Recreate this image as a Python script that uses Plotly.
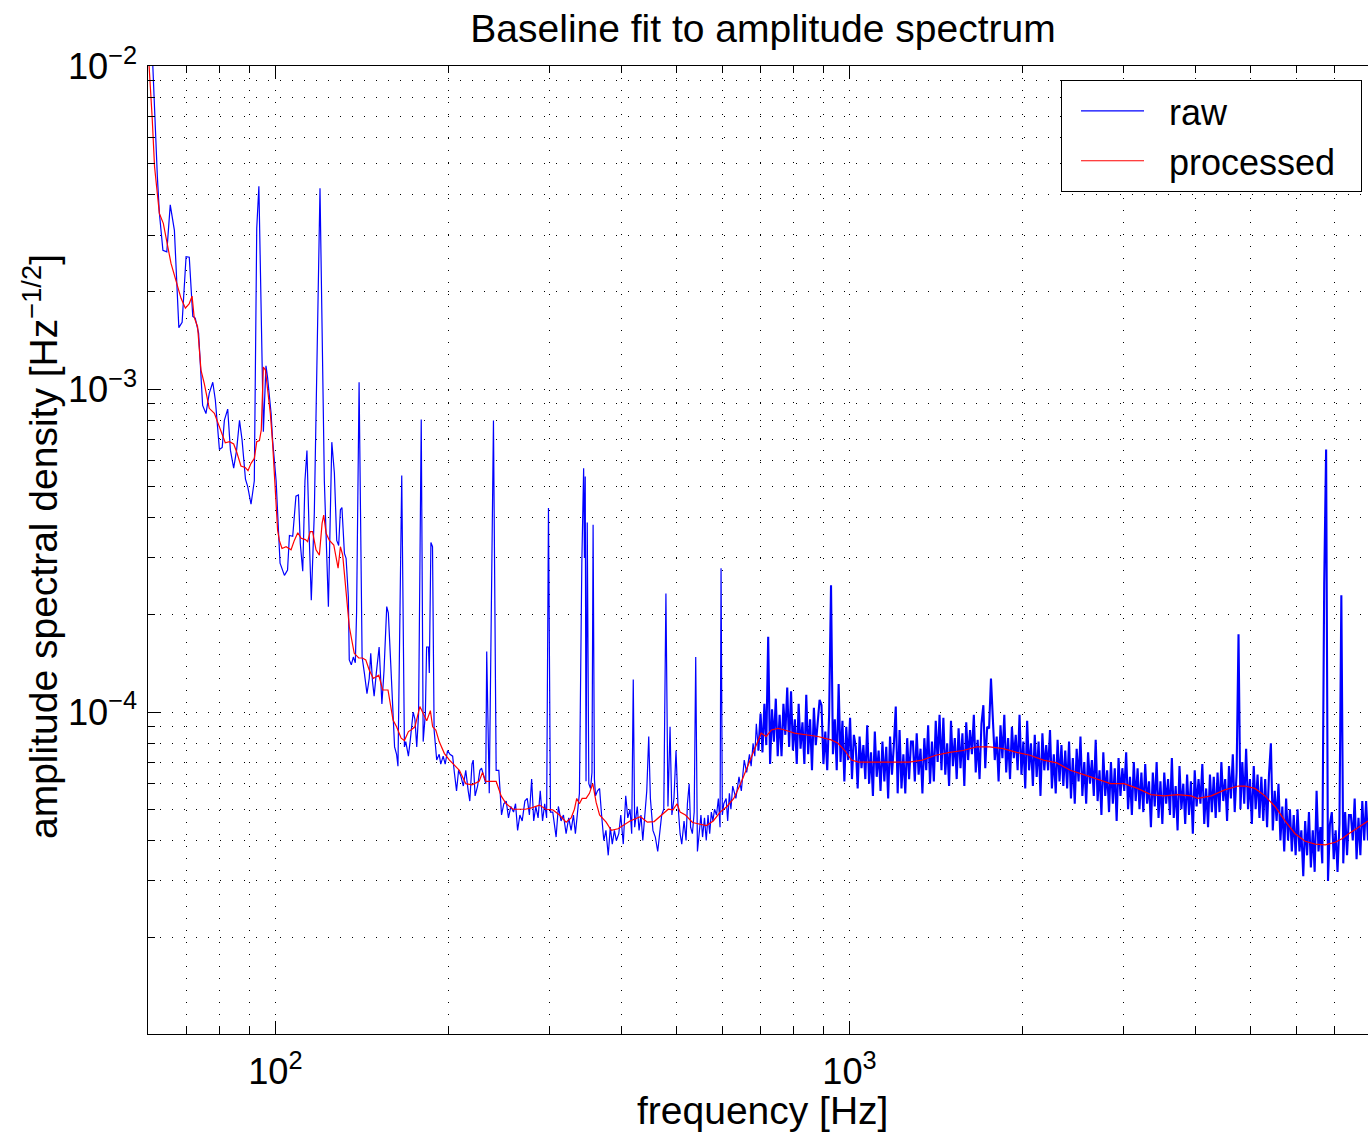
import numpy as np
import plotly.graph_objects as go

# ---------------- data (amplitude in units of 1e-6 Hz^-1/2) ----------------
raw_low_freq = [
    60.2, 61.1, 62.3, 62.8, 63.7, 64.7, 65.6, 66.7, 67.9, 68.8, 69.9, 70.8, 71.8, 72.5, 73.5,
    74.7, 75.7, 76.7, 77.8, 78.6, 79.9, 80.8, 81.5, 82.6, 83.5, 84.6, 85.6, 86.6, 87.5, 88.7,
    89.5, 90.7, 91.9, 92.8, 93.6, 95.3, 96.3, 96.9, 98.3, 98.9, 100.3, 101.3, 101.9, 103.7, 105.0,
    105.8, 107.2, 108.6, 109.7, 110.5, 111.6, 112.6, 113.5, 114.6, 115.5, 116.9, 119.6, 121.7, 123.7, 125.4,
    126.7, 127.9, 128.9, 129.8, 130.6, 131.9, 132.8, 134.0, 134.5, 135.6, 136.7, 137.8, 138.5, 139.9, 141.6,
    142.9, 144.4, 145.7, 146.6, 147.6, 148.6, 149.9, 151.6, 153.3, 154.6, 156.3, 157.3, 158.8, 160.3, 161.3,
    162.6, 163.5, 166.0, 167.8, 168.7, 170.5, 171.8, 173.8, 175.0, 176.3, 177.6, 179.5, 180.9, 182.5, 183.4,
    184.8, 185.4, 186.6, 187.8, 189.0, 191.0, 192.9, 194.1, 196.0, 197.6, 199.5, 201.4, 203.6, 205.0, 206.8,
    208.5, 210.6, 212.5, 214.6, 216.7, 218.1, 220.0, 221.1, 222.8, 225.0, 227.1, 228.6, 232.5, 233.4, 235.8,
    239.8, 242.4, 245.0, 247.7, 250.0, 252.4, 254.7, 257.1, 259.9, 262.0, 264.2, 266.6, 269.1, 272.0, 274.6,
    277.0, 279.5, 281.8, 284.2, 286.8, 289.3, 292.0, 294.5, 296.8, 299.0, 301.4, 304.2, 308.3, 311.1, 314.5,
    317.5, 320.9, 324.3, 327.4, 330.5, 333.1, 336.3, 338.5, 341.8, 344.3, 345.4, 346.5, 347.6, 349.3, 351.5,
    354.0, 356.0, 357.6, 359.5, 361.1, 364.0, 367.0, 370.0, 373.3, 376.5, 380.0, 383.1, 386.2, 389.5, 392.6,
    396.4, 399.6, 403.6, 407.6, 411.0, 414.7, 417.5, 420.1, 422.5, 426.9, 430.0, 433.3, 436.5, 440.2, 443.5,
    447.0, 450.0, 454.6, 459.0, 463.4, 467.0, 470.8, 474.8, 478.9, 482.8, 486.9, 490.5, 494.6, 498.7, 502.5,
    506.9, 510.3, 515.0, 519.2, 522.0, 525.7, 528.7, 532.5, 536.4, 539.7, 543.4, 547.0, 551.1, 554.7, 559.0,
    563.0, 567.0, 570.8, 574.6, 578.2, 582.0, 586.7, 591.0, 595.0, 597.4, 600.5, 604.0, 609.7, 613.5, 617.7,
    621.5, 626.0, 634.0, 642.0, 648.0, 655.6, 662.0, 669.5, 674.0, 679.3, 684.0, 688.2, 694.0,
]
raw_low_asd = [
    20000, 10000, 4540, 3510, 2690, 2660, 3720, 3100, 1550, 1610, 2570, 2560, 1680, 1660, 1490,
    890, 840, 970, 1050, 925, 650, 660, 800, 867, 647, 569, 647, 800, 695, 526,
    499, 440, 520, 3150, 4250, 738, 1180, 1090, 840, 695, 520, 358, 289, 265, 275,
    352, 350, 466, 470, 333, 273, 520, 645, 340, 222, 413, 4190, 520, 212, 685,
    550, 340, 328, 423, 430, 310, 299, 227, 145, 140, 148, 142, 203, 1050, 148,
    132, 114, 127, 152, 125, 112, 132, 159, 106, 134, 212, 203, 142, 99, 78,
    74, 68, 540, 78, 81, 73, 82, 100, 95, 78, 99, 805, 81, 99, 159,
    159, 132, 335, 325, 88, 71, 74, 69, 73, 69, 76, 74, 73, 65, 57,
    66, 63, 59, 66, 57, 53, 69, 71, 55, 59, 66, 67, 60, 154, 56,
    800, 66, 66, 48, 52, 53, 47, 51, 49, 52, 43, 48, 46, 53, 54,
    48, 62, 46, 51, 47, 57, 46, 52, 47, 428, 49, 49, 41, 51, 46,
    48, 42, 47, 43, 48, 42, 50, 56, 290, 569, 300, 536, 61, 386, 60,
    58, 65, 380, 62, 55, 57, 58, 48, 40, 43, 36, 44, 39, 43, 40,
    42, 48, 39, 55, 47, 50, 42, 126, 44, 51, 43, 48, 40, 47, 57,
    84, 54, 43, 41, 37, 43, 48, 50, 233, 51, 90, 48, 54, 76, 52,
    42, 39, 46, 40, 52, 60, 44, 42, 49, 148, 37, 42, 48, 41, 47,
    40, 48, 42, 49, 46, 50, 48, 54, 44, 279, 48, 52, 54, 46, 56,
    50, 59, 54, 63, 57, 71, 65, 74, 68, 80, 73, 92, 76,
]

# dense part of the raw spectrum, 700 Hz - 8 kHz (log-spaced display bins)
band_start_hz = 700.0
band_stop_hz = 8000.0
raw_band_asd = [
    99, 75, 106, 79, 171, 69, 102, 81, 110, 73,
    98, 73, 106, 85, 119, 78, 116, 76, 95, 69,
    106, 77, 93, 69, 113, 74, 95, 66, 103, 79,
    94, 109, 105, 69, 87, 66, 98, 247, 74, 95,
    66, 122, 70, 94, 61, 90, 71, 96, 62, 85,
    78, 58, 84, 67, 79, 62, 91, 60, 75, 55,
    87, 63, 76, 57, 81, 61, 78, 54, 84, 64,
    79, 104, 56, 88, 58, 74, 56, 83, 62, 81,
    81, 61, 86, 64, 77, 56, 83, 66, 91, 60,
    81, 61, 94, 70, 98, 66, 96, 64, 80, 59,
    94, 68, 83, 62, 89, 67, 86, 59, 93, 71,
    88, 74, 98, 65, 82, 62, 92, 105, 67, 90,
    89, 127, 95, 71, 84, 61, 91, 72, 98, 65,
    83, 62, 90, 72, 85, 66, 98, 64, 81, 58,
    94, 66, 80, 59, 85, 63, 81, 55, 86, 66,
    79, 66, 88, 58, 74, 56, 82, 61, 79, 59,
    76, 58, 81, 54, 72, 52, 77, 61, 84, 55,
    70, 52, 75, 60, 71, 55, 82, 53, 66, 48,
    75, 55, 66, 49, 70, 52, 67, 46, 72, 55,
    67, 57, 75, 50, 63, 48, 70, 53, 67, 50,
    65, 49, 69, 52, 61, 44, 65, 51, 70, 47,
    61, 45, 65, 52, 62, 48, 72, 47, 59, 43,
    68, 50, 60, 45, 64, 48, 61, 42, 66, 51,
    62, 52, 69, 45, 58, 44, 64, 49, 63, 47,
    65, 49, 70, 53, 62, 46, 68, 54, 74, 49,
    65, 174, 50, 70, 52, 77, 50, 62, 45, 68,
    50, 64, 47, 63, 46, 62, 44, 64, 80, 43,
    57, 46, 60, 40, 51, 37, 54, 40, 50, 37,
    48, 36, 50, 37, 43, 31, 46, 36, 49, 33,
    43, 32, 57, 37, 44, 34, 250, 650, 30, 45,
    49, 35, 43, 32, 45, 230, 34, 49, 36, 48,
    48, 40, 54, 35, 47, 36, 53, 40, 53, 40,
]

proc_freq = [
    59.9, 60.3, 61.0, 61.6, 62.8, 63.8, 64.9, 65.8, 67.1, 68.5, 69.7, 70.8, 71.6, 72.2, 73.2,
    74.2, 75.2, 76.7, 78.3, 80.4, 81.8, 83.2, 84.6, 85.6, 87.1, 88.6, 89.6, 90.7, 91.9, 92.8,
    93.8, 94.5, 95.3, 96.1, 96.9, 98.0, 98.9, 99.6, 100.3, 100.9, 101.6, 102.7, 104.4, 106.5, 107.9,
    109.4, 110.9, 112.8, 113.8, 115.0, 116.1, 117.7, 119.3, 120.6, 121.4, 122.6, 124.2, 126.4, 128.6, 129.8,
    131.0, 132.8, 134.5, 137.2, 139.7, 141.8, 143.7, 145.7, 148.1, 151.4, 153.8, 157.1, 158.6, 160.3, 162.6,
    165.6, 167.8, 170.5, 172.3, 175.0, 178.5, 180.5, 183.5, 186.2, 187.9, 190.3, 192.9, 196.9, 201.0, 205.0,
    209.2, 214.6, 220.0, 226.4, 229.5, 232.6, 242.4, 247.3, 252.4, 259.3, 265.8, 272.5, 279.3, 288.3, 296.1,
    304.2, 312.5, 320.9, 327.4, 331.8, 334.9, 338.5, 342.2, 347.7, 352.4, 357.1, 362.0, 367.0, 376.8, 384.6,
    395.2, 403.6, 414.7, 432.3, 444.6, 456.8, 470.1, 483.4, 492.6, 500.8, 506.9, 517.9, 532.8, 548.0, 563.3,
    579.0, 595.2, 611.7, 628.7, 646.1, 664.2, 682.5, 701.5, 716.1, 731.0, 751.0, 771.0, 802.0, 846.0, 880.8,
    929.0, 955.0, 981.0, 1008, 1036, 1064, 1110, 1202, 1270, 1339, 1413, 1494, 1576, 1664, 1755,
    1852, 1955, 2063, 2177, 2297, 2424, 2559, 2700, 2849, 3007, 3173, 3349, 3534, 3730, 3936,
    4043, 4267, 4503, 4752, 4881, 5083, 5292, 5510, 5736, 5972, 6217, 6473, 6739, 7016, 7207,
    7403, 7704, 8000,
]
proc_asd = [
    12000, 10000, 6970, 4880, 3500, 3260, 2755, 2450, 2170, 1910, 1780, 1840, 1940, 1670, 1560,
    1145, 1040, 872, 841, 747, 682, 687, 676, 640, 578, 572, 559, 589, 610, 687,
    693, 747, 1170, 1145, 1016, 841, 679, 561, 433, 366, 340, 321, 325, 318, 340,
    359, 345, 342, 337, 362, 362, 318, 306, 384, 407, 357, 340, 329, 279, 325,
    306, 233, 184, 152, 147, 147, 145, 135, 127, 130, 117, 117, 104, 94.5, 90,
    83, 81.6, 87, 88, 90, 104, 100, 94, 101, 90, 88, 81, 74.5, 71, 68.5,
    66, 60, 59.5, 61, 65, 61, 61, 55, 52, 50, 50, 50, 50.5, 51.5, 50,
    49.8, 48, 45.6, 47, 50, 54, 52, 54, 54, 56, 60, 52.5, 48, 45.6, 43,
    43.5, 44.5, 46, 47.4, 45.6, 45.8, 48, 50, 49.8, 52, 49, 48, 45.5, 45, 44.5,
    46, 49, 51, 54, 60, 68, 76, 86, 84, 88, 89, 88, 86, 85, 84,
    82, 80, 76, 71, 70, 70, 70, 70, 70, 71, 73.5, 75, 76, 78, 78,
    77, 75, 73.5, 71, 69.6, 66, 64, 62, 60, 60, 58, 55.5, 55, 55.5, 55,
    54, 55, 57.4, 59, 59, 58, 55, 51, 46, 42, 39.8, 39, 38.8, 39.5, 40.5,
    42, 44, 46,
]
unit = 1e-6

title_text = "Baseline fit to amplitude spectrum"
xlabel_text = "frequency [Hz]"
ylabel_text = "amplitude spectral density [Hz<sup>\u22121/2</sup>]"
NB = "\u00a0"
legend_names = [NB * 2 + "raw" + NB * 2, NB * 2 + "processed" + NB * 2]

# ---------------- build traces ----------------
band_freq = np.geomspace(band_start_hz, band_stop_hz, len(raw_band_asd))
low_x = np.array(raw_low_freq)
low_y = np.array(raw_low_asd, float) * unit
band_x = np.concatenate([low_x[-1:], band_freq])
band_y = np.concatenate([low_y[-1:], np.array(raw_band_asd, float) * unit])
proc_y = np.array(proc_asd, float) * unit

FONT = "Liberation Sans, Arial, Helvetica, sans-serif"
BLUE = "#0000ff"
RED = "#ff0000"
GRID_DASH = "1px,11px"

FIG_W, FIG_H = 1368, 1134

fig = go.Figure()
fig.add_trace(go.Scatter(x=low_x, y=low_y, mode="lines", name=legend_names[0],
                         legendgroup="raw", line=dict(color=BLUE, width=1.2)))
fig.add_trace(go.Scatter(x=band_x, y=band_y, mode="lines", name=legend_names[0],
                         legendgroup="raw", showlegend=False,
                         line=dict(color=BLUE, width=2.1)))
fig.add_trace(go.Scatter(x=proc_freq, y=proc_y, mode="lines", name=legend_names[1],
                         line=dict(color=RED, width=1.2)))

axis_common = dict(
    type="log", dtick=1, exponentformat="power", showexponent="all",
    showline=True, linecolor="black", linewidth=1,
    ticks="inside", ticklen=13, tickwidth=1, tickcolor="black",
    showgrid=True, gridcolor="black", gridwidth=1, griddash=GRID_DASH,
    minor=dict(ticks="inside", ticklen=7, tickwidth=1, tickcolor="black",
               showgrid=True, gridcolor="black", gridwidth=1, griddash=GRID_DASH,
               dtick="D1"),
    tickfont=dict(family=FONT, size=29, color="black"),
    zeroline=False,
)

fig.update_layout(
    width=FIG_W, height=FIG_H, autosize=False,
    margin=dict(l=148, r=0, t=66, b=FIG_H - 1034, pad=0),
    paper_bgcolor="white", plot_bgcolor="white",
    font=dict(family=FONT, color="black"),
    title=dict(text=title_text, x=763 / FIG_W, xanchor="center", xref="container",
               y=1 - 28 / FIG_H, yanchor="middle", yref="container",
               font=dict(family=FONT, size=39, color="black")),
    xaxis=dict(range=[np.log10(60), np.log10(8000)], mirror="allticks",
               ticklabelstandoff=7, **axis_common),
    yaxis=dict(range=[-4.997, -1.9995], mirror=False, ticklabelstandoff=4, **axis_common),
    legend=dict(x=0.9951, y=0.9855, xanchor="right", yanchor="top",
                bgcolor="white", bordercolor="black", borderwidth=1,
                font=dict(family=FONT, size=36, color="black"),
                itemwidth=63, indentation=14, tracegroupgap=0),
    showlegend=True,
    annotations=[
        dict(text=xlabel_text, xref="paper", yref="paper", x=(762 - 148) / 1220,
             y=-(1110 - 1034) / 968, xanchor="center", yanchor="middle", showarrow=False,
             font=dict(family=FONT, size=39, color="black")),
        dict(text=ylabel_text, xref="paper", yref="paper", x=(40 - 148) / 1220,
             y=1 - (547 - 66) / 968, xanchor="center", yanchor="middle", showarrow=False,
             textangle=-90, font=dict(family=FONT, size=39, color="black")),
    ],
)

# remove the default page margin so the figure sits at the window's top-left corner
page_style = "document.body.style.margin='0';document.body.style.overflow='hidden';"
fig.write_html("out.html", post_script=page_style, config={"displayModeBar": False})
